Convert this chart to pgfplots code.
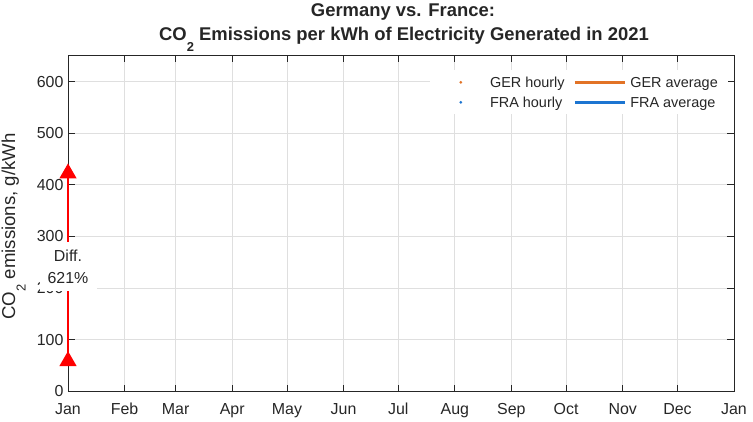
\documentclass[border=0pt]{standalone}
\usepackage{fontspec}
\setmainfont{Liberation Sans}
\usepackage{pgfplots}
\pgfplotsset{compat=1.18}
\definecolor{mtext}{RGB}{38,38,38}
\definecolor{mgrid}{RGB}{223,223,223}
\definecolor{gerc}{RGB}{226,115,38}
\definecolor{frac}{RGB}{28,117,209}
\newcommand{\fs}[1]{\fontsize{#1}{#1}\selectfont}
\newcommand{\subtwo}{\raisebox{-10.5bp}{\fs{13}2}}
\begin{document}
\begin{tikzpicture}
\useasboundingbox (0,0) rectangle (753bp,422bp);
\begin{axis}[
  at={(68bp,30.7bp)}, anchor=south west,
  scale only axis, width=666bp, height=335.6bp,
  xmin=0, xmax=365, ymin=0, ymax=650,
  xtick={0,31,59,90,120,151,181,212,243,273,304,334,365},
  xticklabels={Jan,Feb,Mar,Apr,May,Jun,Jul,Aug,Sep,Oct,Nov,Dec,Jan},
  ytick={0,100,200,300,400,500,600},
  grid=major,
  major grid style={draw=mgrid, line width=0.8bp},
  tick align=inside,
  major tick length=6.7bp,
  every tick/.style={draw=mtext, line width=0.8bp},
  axis line style={draw=mtext, line width=0.8bp},
  ticklabel style={font=\fs{16}, text=mtext},
  xticklabel style={yshift=-8.4bp},
  yticklabel style={xshift=-1bp},
  /pgf/number format/assume math mode=true,
  clip=false,
  legend columns=2,
  legend style={draw=none, fill=white, font=\fs{14.5}, text=mtext,
    at={(0.991,0.957)}, anchor=north east, inner xsep=6bp, inner ysep=2bp,
    nodes={inner xsep=4bp, inner ysep=3.25bp, text height=11.5bp, text depth=2bp, anchor=west},
    /tikz/every even column/.append style={column sep=5bp}},
]
\addlegendimage{legend image code/.code={\path (0bp,0bp) (50bp,0bp); \fill[gerc] (25bp,0bp) circle (1.2bp);}}
\addlegendentry{GER hourly}
\addlegendimage{legend image code/.code={\draw[gerc, line width=2.6bp] (0bp,0bp) -- (50bp,0bp);}}
\addlegendentry{GER average}
\addlegendimage{legend image code/.code={\path (0bp,0bp) (50bp,0bp); \fill[frac] (25bp,0bp) circle (1.2bp);}}
\addlegendentry{FRA hourly}
\addlegendimage{legend image code/.code={\draw[frac, line width=2.6bp] (0bp,0bp) -- (50bp,0bp);}}
\addlegendentry{FRA average}
\addplot[red, line width=2bp, mark=triangle*, mark size=8bp, mark options={solid, fill=red, draw=none}, forget plot]
  coordinates {(0,58.5) (0,422)};
\node[fill=white, inner sep=0pt, minimum width=57bp, minimum height=49bp, align=center,
  font=\fontsize{16}{21.5}\selectfont, text=mtext] at (axis cs:0,241) {Diff.\\621\%};
\end{axis}
\node[font=\bfseries\fs{18.5}, text=mtext, anchor=base] at (403bp,405.3bp) {Germany vs. France:};
\node[font=\bfseries\fs{18.5}, text=mtext, anchor=base] at (404bp,381.3bp) {CO\subtwo{} Emissions per kWh of Electricity Generated in 2021};
\node[rotate=90, anchor=base, font=\fs{18.7}, text=mtext] at (15bp,195.5bp) {CO\subtwo{} emissions, g/kWh};
\end{tikzpicture}
\end{document}
